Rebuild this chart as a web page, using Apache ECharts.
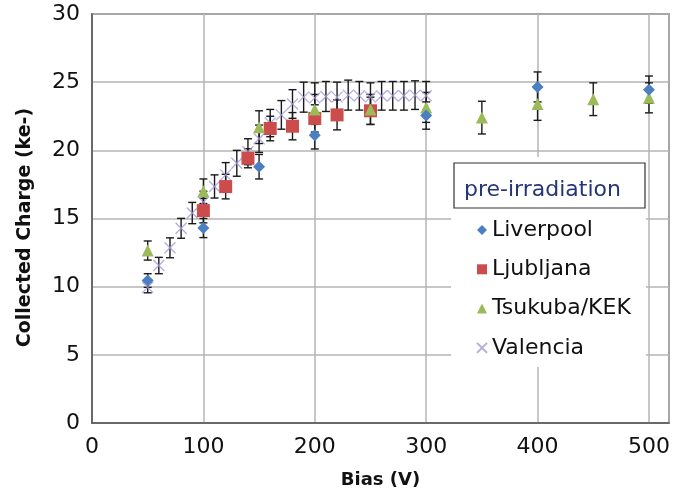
<!DOCTYPE html>
<html>
<head>
<meta charset="utf-8">
<script src="https://cdn.jsdelivr.net/npm/echarts@6/dist/echarts.min.js"></script>
<style>html,body{margin:0;padding:0;background:#fff}#c{width:688px;height:495px}</style>
</head>
<body>
<div id="c"></div>
<script>
// ---- data ----
const liverpoolBias = [50, 100, 150, 200, 300, 400, 500];
const liverpoolCharge = [10.45, 14.3, 18.8, 21.1, 22.55, 24.65, 24.45];
const liverpoolErr = [0.5, 0.7, 0.9, 1.0, 1.0, 1.1, 1.0];

const ljubljanaBias = [100, 120, 140, 160, 180, 200, 220, 250];
const ljubljanaCharge = [15.58, 17.34, 19.42, 21.6, 21.77, 22.34, 22.6, 22.9];
const ljubljanaErr = [0.9, 0.9, 0.7, 0.9, 1.0, 1.0, 1.1, 1.0];

const tsukubaBias = [50, 100, 150, 200, 250, 300, 350, 400, 450, 500];
const tsukubaCharge = [12.65, 17.0, 21.7, 23.0, 23.0, 23.15, 22.4, 23.4, 23.75, 23.85];
const tsukubaErr = [0.7, 0.9, 1.2, 1.1, 1.1, 1.1, 1.2, 1.2, 1.2, 1.1];

const valenciaBias = [50, 60, 70, 80, 90, 100, 110, 120, 130, 140, 150, 160, 170, 180, 190, 200, 210, 220, 230, 240, 250, 260, 270, 280, 290, 300];
const valenciaCharge = [9.95, 11.55, 12.85, 14.28, 15.4, 16.2, 17.35, 18.2, 19.05, 19.9, 20.85, 22.0, 22.6, 23.4, 23.9, 23.85, 23.95, 23.9, 24.05, 24.0, 23.9, 24.0, 24.0, 24.0, 24.05, 24.0];
const valenciaErr = [0.4, 0.6, 0.73, 0.73, 0.78, 0.8, 0.85, 0.9, 0.95, 0.95, 1.0, 1.0, 1.05, 1.05, 1.1, 1.1, 1.1, 1.1, 1.1, 1.05, 1.05, 1.05, 1.05, 1.05, 1.05, 1.05];

const xTicks = [0, 100, 200, 300, 400, 500];
const yTicks = [0, 5, 10, 15, 20, 25, 30];
const seriesNames = ['Liverpool', 'Ljubljana', 'Tsukuba/KEK', 'Valencia'];
const legendTitle = 'pre-irradiation';
const xTitle = 'Bias (V)';
const yTitle = 'Collected Charge (ke-)';

// ---- styles ----
const FONT = 'DejaVu Sans';
const colors = {Liverpool: '#4a7fc1', Ljubljana: '#cc4b4b', 'Tsukuba/KEK': '#9bbb59', Valencia: '#a596d6'};
const crossPath = 'path://M0,0 L10,10 M10,0 L0,10';

function pairs(xs, ys) { return xs.map((x, i) => [x, ys[i]]); }
function errSeries(xs, ys, es) {
  return {
    type: 'custom', z: 1, silent: true,
    data: xs.map((x, i) => [x, ys[i] - es[i], ys[i] + es[i]]),
    encode: {x: 0, y: [1, 2]},
    renderItem: function (params, api) {
      const x = api.value(0);
      const lo = api.coord([x, api.value(1)]);
      const hi = api.coord([x, api.value(2)]);
      const w = 4;
      const st = {stroke: '#1a1a1a', lineWidth: 1.4};
      return {type: 'group', children: [
        {type: 'line', shape: {x1: lo[0], y1: lo[1], x2: hi[0], y2: hi[1]}, style: st},
        {type: 'line', shape: {x1: lo[0] - w, y1: lo[1], x2: lo[0] + w, y2: lo[1]}, style: st},
        {type: 'line', shape: {x1: hi[0] - w, y1: hi[1], x2: hi[0] + w, y2: hi[1]}, style: st}
      ]};
    }
  };
}

const chart = echarts.init(document.getElementById('c'));
chart.setOption({
  animation: false,
  backgroundColor: '#fff',
  grid: {left: 92, right: 19, top: 14, bottom: 72, show: true, borderColor: '#555', borderWidth: 1.5, backgroundColor: 'transparent'},
  xAxis: {
    type: 'value', min: 0, max: 518, interval: 100,
    name: xTitle, nameLocation: 'middle', nameGap: 48,
    nameTextStyle: {fontFamily: FONT, fontSize: 18, fontWeight: 'bold', color: '#111'},
    axisLine: {show: true, lineStyle: {color: '#555', width: 1.5}},
    axisTick: {show: false},
    axisLabel: {fontFamily: FONT, fontSize: 22, color: '#111', margin: 13,
      formatter: v => xTicks.indexOf(v) >= 0 ? String(v) : ''},
    splitLine: {show: true, lineStyle: {color: '#b4b4b4', width: 1.5}}
  },
  yAxis: {
    type: 'value', min: 0, max: 30, interval: 5,
    name: yTitle, nameLocation: 'middle', nameGap: 57,
    nameTextStyle: {fontFamily: FONT, fontSize: 19, fontWeight: 'bold', color: '#111', padding: [0, 18, 0, 0]},
    axisLine: {show: true, lineStyle: {color: '#555', width: 1.5}},
    axisTick: {show: false},
    axisLabel: {fontFamily: FONT, fontSize: 22, color: '#111', margin: 12,
      formatter: v => yTicks.indexOf(v) >= 0 ? String(v) : ''},
    splitLine: {show: true, lineStyle: {color: '#b4b4b4', width: 1.5}}
  },
  legend: {
    orient: 'vertical', left: 471, top: 214, z: 6,
    itemWidth: 10, itemHeight: 10, itemGap: 17.3,
    textStyle: {fontFamily: FONT, fontSize: 22, color: '#111', lineHeight: 22},
    data: [
      {name: seriesNames[0], icon: 'diamond'},
      {name: seriesNames[1], icon: 'rect'},
      {name: seriesNames[2], icon: 'triangle'},
      {name: seriesNames[3]}
    ]
  },
  graphic: [
    {type: 'rect', z: 3, shape: {x: 451, y: 157, width: 195, height: 210}, style: {fill: '#fff'}},
    {type: 'rect', z: 4, shape: {x: 454, y: 163, width: 191, height: 45}, style: {fill: '#fff', stroke: '#333', lineWidth: 1.2}},
    {type: 'text', z: 5, x: 464, y: 190, style: {text: legendTitle, font: '22px "DejaVu Sans"', fill: '#24357a', textVerticalAlign: 'middle'}}
  ],
  series: [
    errSeries(valenciaBias, valenciaCharge, valenciaErr),
    errSeries(ljubljanaBias, ljubljanaCharge, ljubljanaErr),
    errSeries(tsukubaBias, tsukubaCharge, tsukubaErr),
    errSeries(liverpoolBias, liverpoolCharge, liverpoolErr),
    {name: seriesNames[3], type: 'scatter', z: 3, symbol: crossPath, symbolSize: 11,
      itemStyle: {color: 'rgba(0,0,0,0)', borderColor: colors.Valencia, borderWidth: 1.3},
      data: pairs(valenciaBias, valenciaCharge)},
    {name: seriesNames[1], type: 'scatter', z: 4, symbol: 'rect', symbolSize: 13,
      itemStyle: {color: colors.Ljubljana, opacity: 1},
      data: pairs(ljubljanaBias, ljubljanaCharge)},
    {name: seriesNames[2], type: 'scatter', z: 5, symbol: 'triangle', symbolSize: 12,
      itemStyle: {color: colors['Tsukuba/KEK'], opacity: 1},
      data: pairs(tsukubaBias, tsukubaCharge)},
    {name: seriesNames[0], type: 'scatter', z: 6, symbol: 'diamond', symbolSize: 12,
      itemStyle: {color: colors.Liverpool, opacity: 1},
      data: pairs(liverpoolBias, liverpoolCharge)}
  ]
});
</script>
</body>
</html>
